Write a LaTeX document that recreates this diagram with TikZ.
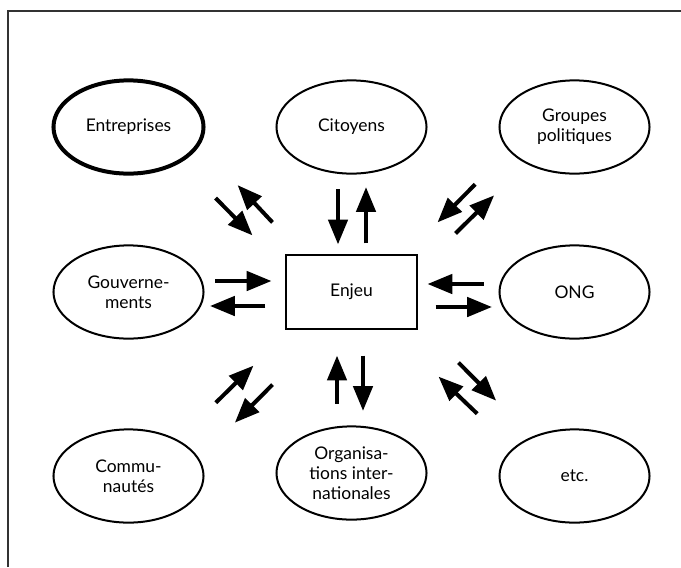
\documentclass[tikz,border=0pt]{standalone}
\usepackage{fontspec}
\setmainfont{Lato}
\usetikzlibrary{arrows.meta, positioning, calc, shapes.geometric}

\begin{document}
\begin{tikzpicture}[
  x=0.025cm, y=0.025cm,
  actor/.style={draw, ellipse, line width=0.5mm, minimum width=3.75cm, minimum height=2.33cm, inner sep=0pt, align=center, font=\fontsize{12.4}{14.4}\selectfont},
  lead/.style={actor, line width=1mm},
  issue/.style={draw, rectangle, line width=0.5mm, minimum width=3.25cm, minimum height=1.83cm, font=\fontsize{12.4}{14.4}\selectfont},
  flow/.style={-{Triangle[length=6.2mm, width=4.8mm]}, line width=1mm},
  node distance=165 and 223, on grid
]
  \useasboundingbox (0,0) rectangle (681,-567);

  % Frame
  \draw[line width=0.5mm, black!80] (8,-567) -- (8,-11) -- (681,-11);

  % Issue in the middle
  \node[issue] (enjeu) at (351.5,-292) {Enjeu};

  % Actors around it
  \node[lead, above left=of enjeu] (ent) {Entreprises};
  \node[actor, above=of enjeu] (cit) {Citoyens};
  \node[actor, above right=of enjeu] (grp) {Groupes\\politiques};
  \node[actor, left=of enjeu] (gov) {Gouverne-\\ments};
  \node[actor, right=of enjeu] (ong) {ONG};
  \node[actor, below left=184 and 223 of enjeu] (com) {Commu-\\nautés};
  \node[actor, below=181 of enjeu] (org) {Organisa-\\tions inter-\\nationales};
  \node[actor, below right=184 and 223 of enjeu] (etc) {etc.};

  % Two-way flows
  \draw[flow] ($(ent.-45)+(46,-30)$) -- ($(enjeu.north west)+(-33,19)$);
  \draw[flow] ($(enjeu.north west)+(-13,32)$) -- ($(ent.-45)+(68,-17)$);

  \draw[flow] ($(cit.south)+(-13.5,-14.5)$) -- ($(enjeu.north)+(-13.5,10)$);
  \draw[flow] ($(enjeu.north)+(14.5,11)$) -- ($(cit.south)+(14.5,-12.5)$);

  \draw[flow] ($(grp.-135)+(-59,-17)$) -- ($(enjeu.north east)+(20,32)$);
  \draw[flow] ($(enjeu.north east)+(38,21)$) -- ($(grp.-135)+(-40,-28)$);

  \draw[flow] ($(gov.east)+(10.5,11)$) -- ($(enjeu.west)+(-14,11)$);
  \draw[flow] ($(enjeu.west)+(-20,-14)$) -- ($(gov.east)+(5.5,-14)$);

  \draw[flow] ($(ong.west)+(-14.5,8)$) -- ($(enjeu.east)+(10,8)$);
  \draw[flow] ($(enjeu.east)+(18,-15)$) -- ($(ong.west)+(-6.5,-15)$);

  \draw[flow] ($(com.45)+(47,33)$) -- ($(enjeu.south west)+(-32,-36)$);
  \draw[flow] ($(enjeu.south west)+(-13,-55)$) -- ($(com.45)+(66,13)$);

  \draw[flow] ($(org.north)+(-14.5,21.5)$) -- ($(enjeu.south)+(-14.5,-26)$);
  \draw[flow] ($(enjeu.south)+(11.5,-26)$) -- ($(org.north)+(11.5,14.5)$);

  \draw[flow] ($(etc.135)+(-57,22)$) -- ($(enjeu.south east)+(21,-47)$);
  \draw[flow] ($(enjeu.south east)+(41,-33)$) -- ($(etc.135)+(-38,35)$);

\end{tikzpicture}
\end{document}
